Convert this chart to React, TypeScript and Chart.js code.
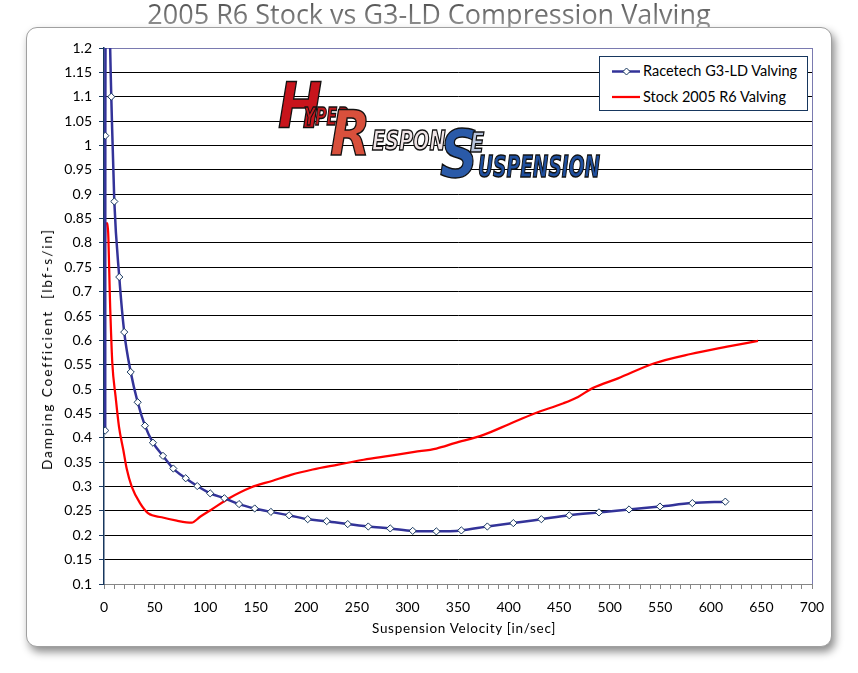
import React, { useEffect, useRef } from "react";
import { Chart, registerables } from "chart.js";

Chart.register(...registerables);

// ---- data ----
const racetechVelocity = [
  1.2, 1.3, 2.5, 7.2, 10.2, 15.1, 20, 26.4, 33.3, 40.5, 48.4, 58.3, 68.5, 80.8, 92.2, 105,
  119, 133.5, 149, 165, 183, 201.4, 220.2, 241, 261.3, 283, 305.2, 328.6, 353.3, 379,
  404.7, 432.4, 460, 489.4, 519.1, 549.7, 581.7, 614.3,
];
const racetechDamping = [
  0.415, 1.02, 1.46, 1.1, 0.885, 0.73, 0.617, 0.535, 0.473, 0.425, 0.39, 0.363, 0.337, 0.317,
  0.301, 0.286, 0.276, 0.264, 0.255, 0.248, 0.241, 0.233, 0.229, 0.223, 0.218, 0.214, 0.209,
  0.208, 0.21, 0.218, 0.225, 0.233, 0.241, 0.247, 0.253, 0.259, 0.266, 0.269,
];
const stockVelocity = [
  0, 1.5, 3.5, 6.2, 8.2, 11.5, 14.8, 19.1, 22.4, 27.4, 35.6, 43.8, 57, 71.9, 86.7, 95, 105.7,
  123.7, 145.2, 166.8, 184.8, 206.4, 231.5, 256.7, 281.8, 307, 328.6, 346.6, 375.2, 400.4,
  425.6, 454.3, 468.7, 483.1, 508.2, 544.2, 580.1, 616.1, 646.6,
];
const stockDamping = [
  0.666, 0.84, 0.84, 0.662, 0.554, 0.484, 0.423, 0.375, 0.337, 0.3, 0.266, 0.245, 0.237, 0.23,
  0.226, 0.238, 0.252, 0.276, 0.298, 0.312, 0.324, 0.335, 0.345, 0.355, 0.363, 0.371, 0.378,
  0.389, 0.406, 0.428, 0.45, 0.471, 0.484, 0.502, 0.522, 0.553, 0.572, 0.587, 0.599,
];
const seriesLabels = ["Racetech G3-LD Valving", "Stock 2005 R6 Valving"];
const yTickValues = [
  0.1, 0.15, 0.2, 0.25, 0.3, 0.35, 0.4, 0.45, 0.5, 0.55, 0.6, 0.65, 0.7, 0.75, 0.8, 0.85, 0.9,
  0.95, 1, 1.05, 1.1, 1.15, 1.2,
];
const xMajorTicks = [0, 50, 100, 150, 200, 250, 300, 350, 400, 450, 500, 550, 600, 650, 700];
const xMinorStep = 10;
const chartTitle = "2005 R6 Stock vs G3-LD Compression Valving";
const xTitle = "Suspension Velocity [in/sec]";
const yTitle = "Damping Coefficient  [lbf-s/in]";

const BLUE = "#333399";
const RED = "#ff0000";
const NAVY = "#17375e";
const FRAME_PURPLE = "#7a7ab0";
const FONT = 'Lato, "Open Sans", sans-serif';

function buildXTicks() {
  const out: { value: number }[] = [];
  const last = xMajorTicks[xMajorTicks.length - 1];
  for (let v = xMajorTicks[0]; v <= last + 1e-9; v += xMinorStep) out.push({ value: v });
  return out;
}

export default function App() {
  const canvasRef = useRef<HTMLCanvasElement | null>(null);

  useEffect(() => {
    const canvas = canvasRef.current;
    if (!canvas) return;
    const chart = new Chart(canvas, {
      type: "line",
      data: {
        datasets: [
          {
            label: seriesLabels[0],
            data: racetechVelocity.map((x, i) => ({ x, y: racetechDamping[i] })),
            borderColor: BLUE,
            backgroundColor: "#ffffff",
            borderWidth: 2.5,
            pointStyle: "rectRot",
            pointRadius: 3.6,
            pointBorderColor: NAVY,
            pointBackgroundColor: "#ffffff",
            pointBorderWidth: 1,
            cubicInterpolationMode: "monotone",
            order: 1,
          },
          {
            label: seriesLabels[1],
            data: stockVelocity.map((x, i) => ({ x, y: stockDamping[i] })),
            borderColor: RED,
            backgroundColor: RED,
            borderWidth: 2.25,
            pointRadius: 0,
            cubicInterpolationMode: "monotone",
            order: 2,
          },
        ],
      },
      options: {
        animation: false,
        responsive: false,
        maintainAspectRatio: false,
        layout: { padding: { left: 30, top: 48, right: 46, bottom: 37 } },
        plugins: {
          legend: { display: false },
          title: { display: false },
          tooltip: { enabled: false },
        },
        scales: {
          x: {
            type: "linear",
            min: 0,
            max: 700,
            afterBuildTicks: (scale: any) => {
              scale.ticks = buildXTicks();
            },
            afterFit: (scale: any) => {
              scale.height = 52;
            },
            ticks: {
              autoSkip: false,
              maxRotation: 0,
              padding: 10,
              color: "#000000",
              font: { family: FONT, size: 14 },
              callback: (value: any) => (xMajorTicks.includes(Number(value)) ? String(value) : ""),
            },
            grid: {
              drawOnChartArea: true,
              drawTicks: true,
              tickLength: 5,
              lineWidth: 1,
              color: (ctx: any) =>
                ctx.tick && Math.abs(ctx.tick.value - 700) < 1e-6 ? FRAME_PURPLE : "rgba(0,0,0,0)",
              tickColor: "#868686",
            },
            border: { display: true, color: "#868686", width: 1 },
          },
          y: {
            type: "linear",
            min: 0.1,
            max: 1.2,
            afterBuildTicks: (scale: any) => {
              scale.ticks = yTickValues.map((v) => ({ value: v }));
            },
            afterFit: (scale: any) => {
              scale.width = 74;
            },
            ticks: {
              autoSkip: false,
              padding: 7,
              color: "#000000",
              font: { family: FONT, size: 14 },
              callback: (value: any) => String(parseFloat(Number(value).toFixed(2))),
            },
            grid: {
              drawTicks: true,
              tickLength: 5,
              lineWidth: 1,
              color: (ctx: any) => {
                const v = ctx.tick ? ctx.tick.value : 0;
                if (Math.abs(v - 1.2) < 1e-6) return FRAME_PURPLE;
                if (Math.abs(v - 0.1) < 1e-6) return "rgba(0,0,0,0)";
                return "#000000";
              },
              tickColor: NAVY,
            },
            border: { display: true, color: NAVY, width: 1.5 },
          },
        },
      },
    } as any);
    return () => chart.destroy();
  }, []);

  const logoBase: React.CSSProperties = {
    position: "absolute",
    fontFamily: '"DejaVu Sans", sans-serif',
    fontWeight: "bold",
    fontStyle: "italic",
    lineHeight: 1,
    WebkitTextStroke: "1.5px #111",
    whiteSpace: "nowrap",
    transformOrigin: "left top",
  };

  return (
    <div
      style={{
        position: "fixed",
        left: 0,
        top: 0,
        width: 858,
        height: 673,
        background: "#ffffff",
        overflow: "hidden",
      }}
    >
      <div
        style={{
          position: "absolute",
          left: 0,
          top: -2,
          width: 858,
          textAlign: "center",
          fontFamily: '"Open Sans", sans-serif',
          fontSize: 27,
          lineHeight: "32px",
          color: "#6e6e6e",
          backgroundImage: "linear-gradient(#444444, #a0a0a0)",
          WebkitBackgroundClip: "text",
          backgroundClip: "text",
          WebkitTextFillColor: "transparent",
          whiteSpace: "nowrap",
        }}
      >
        {chartTitle}
      </div>
      <div
        style={{
          position: "absolute",
          left: 26,
          top: 27,
          width: 804,
          height: 618,
          border: "1px solid #a0a0a0",
          borderRadius: 11,
          background: "#ffffff",
          boxShadow: "3px 5px 9px rgba(0,0,0,0.45)",
        }}
      />
      <canvas
        ref={canvasRef}
        width={858}
        height={673}
        style={{ position: "absolute", left: 0, top: 0, width: 858, height: 673 }}
      />
      {/* logo */}
      <div style={{ position: "absolute", left: 0, top: 0 }}>
        <span style={{ ...logoBase, left: 278, top: 75, fontSize: 62, color: "#c8141c", transform: "scaleX(0.85)" }}>H</span>
        <span style={{ ...logoBase, left: 304, top: 104, fontSize: 25, color: "#c01a1e", transform: "scaleX(0.62)" }}>YPER</span>
        <span style={{ ...logoBase, left: 330, top: 103, fontSize: 62, color: "#d8503c", transform: "scaleX(0.85)" }}>R</span>
        <span style={{ ...logoBase, left: 372, top: 128, fontSize: 26, color: "#efe4e6", transform: "scaleX(0.74)" }}>ESPON</span>
        <span style={{ ...logoBase, left: 440, top: 122, fontSize: 66, color: "#2a5aa8", transform: "scaleX(0.8)" }}>S</span>
        <span style={{ ...logoBase, left: 470, top: 130, fontSize: 26, color: "#b8c4dc", transform: "scaleX(0.8)" }}>E</span>
        <span style={{ ...logoBase, left: 478, top: 152, fontSize: 30, color: "#1f4f9e", transform: "scaleX(0.62)" }}>USPENSION</span>
      </div>
      {/* legend */}
      <div
        style={{
          position: "absolute",
          left: 599,
          top: 56,
          width: 207,
          height: 53,
          border: `1px solid ${NAVY}`,
          background: "#ffffff",
          fontFamily: FONT,
          fontSize: 14.5,
          color: "#000",
        }}
      >
        <svg width={40} height={53} style={{ position: "absolute", left: 0, top: 0 }}>
          <line x1={12} y1={14.5} x2={41} y2={14.5} stroke={BLUE} strokeWidth={2.5} />
          <polygon points="26.5,11 30,14.5 26.5,18 23,14.5" fill="#fff" stroke={NAVY} strokeWidth={1} />
          <line x1={12} y1={40} x2={41} y2={40} stroke={RED} strokeWidth={2.25} />
        </svg>
        <div style={{ position: "absolute", left: 43, top: 5, lineHeight: "18px", whiteSpace: "nowrap" }}>
          {seriesLabels[0]}
        </div>
        <div style={{ position: "absolute", left: 43, top: 31, lineHeight: "18px", whiteSpace: "nowrap" }}>
          {seriesLabels[1]}
        </div>
      </div>
      {/* axis titles */}
      <div
        style={{
          position: "absolute",
          left: 464,
          top: 628,
          transform: "translate(-50%, -50%)",
          fontFamily: FONT,
          fontSize: 13.5,
          letterSpacing: 0.7,
          whiteSpace: "nowrap",
          color: "#000",
        }}
      >
        {xTitle}
      </div>
      <div
        style={{
          position: "absolute",
          left: 47,
          top: 349,
          transform: "translate(-50%, -50%) rotate(-90deg)",
          fontFamily: FONT,
          fontSize: 13.5,
          letterSpacing: 2,
          whiteSpace: "pre",
          color: "#000",
        }}
      >
        {yTitle}
      </div>
    </div>
  );
}
